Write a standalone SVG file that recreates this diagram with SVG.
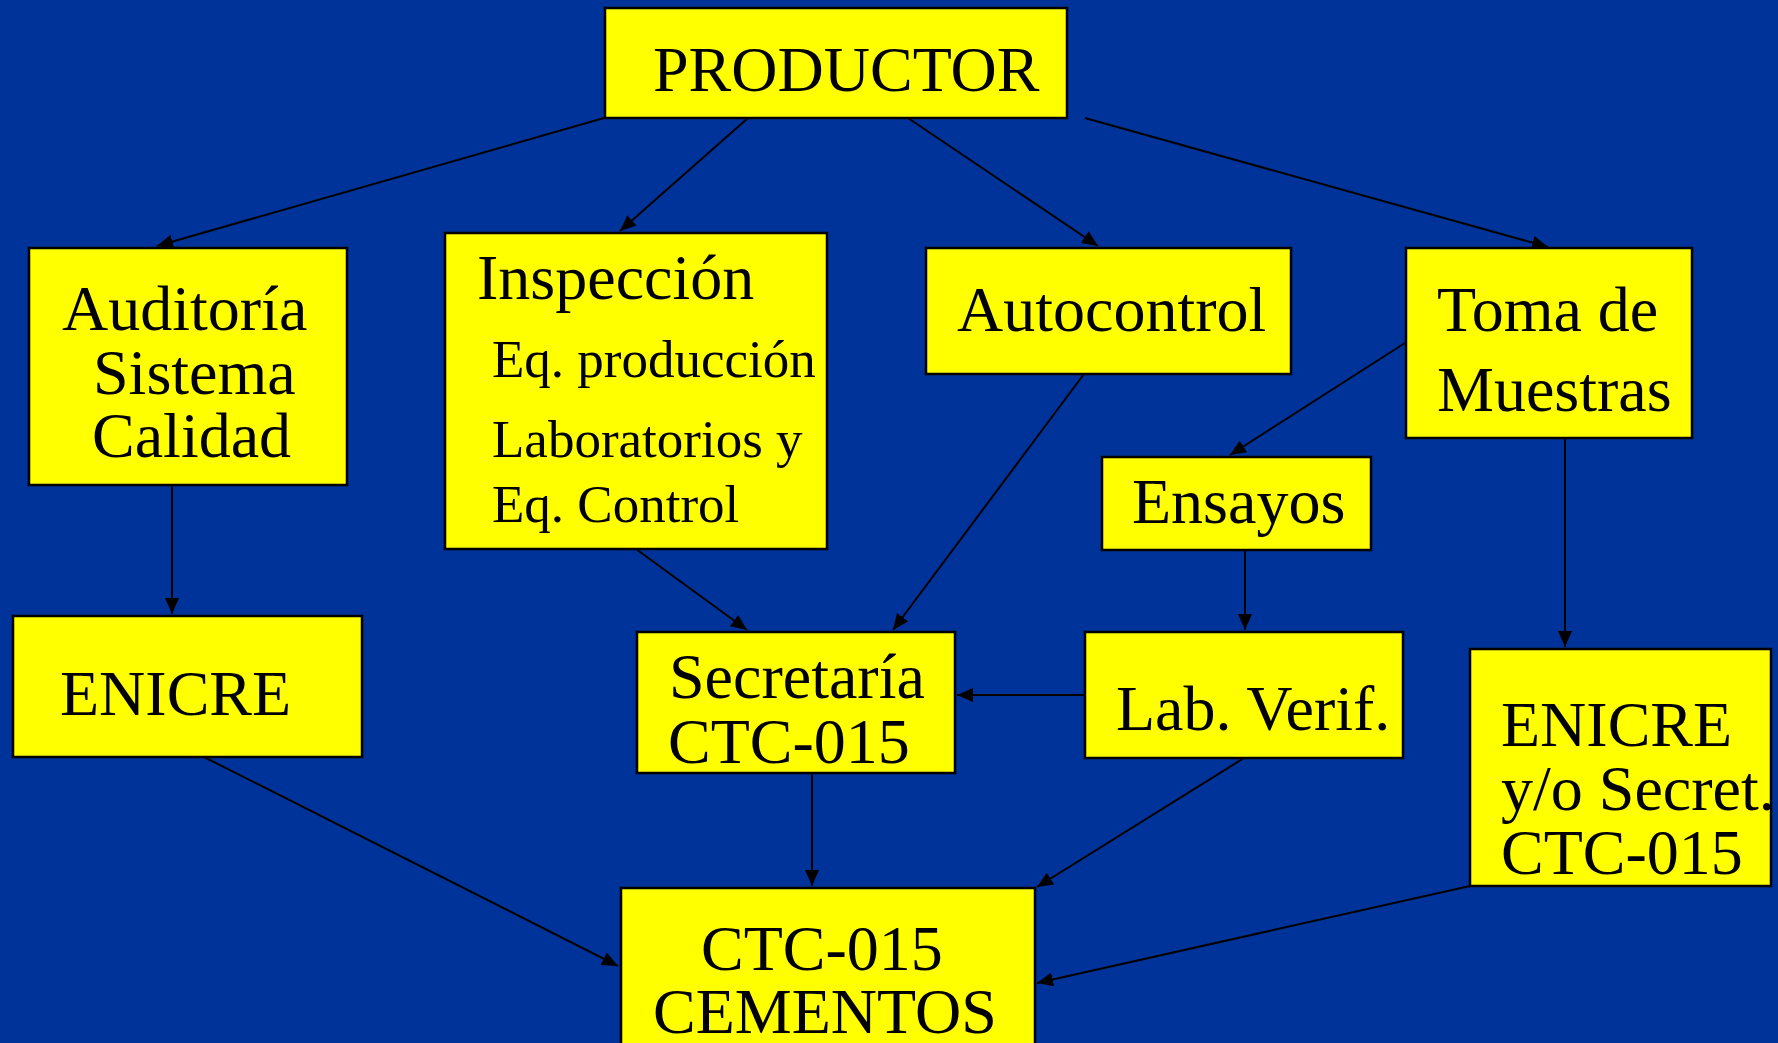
<svg xmlns="http://www.w3.org/2000/svg" width="1778" height="1043" viewBox="0 0 1778 1043">
<style>
.box{fill:#FFFF00;stroke:#000;stroke-width:2.5}
.t{font-family:"Liberation Serif","Times New Roman",serif;font-size:64px;fill:#000}
.s{font-size:53px}
.c{stroke:#000;stroke-width:2;fill:none;marker-end:url(#ah)}
</style>
<defs>
<marker id="ah" markerUnits="userSpaceOnUse" markerWidth="17" markerHeight="14" refX="16" refY="7" orient="auto">
<path d="M0,0 L16,7 L0,14 z" fill="#000"/>
</marker>
</defs>
<rect width="1778" height="1043" fill="#003399"/>
<g id="connectors">
<line class="c" x1="604" y1="118" x2="157" y2="246"/>
<line class="c" x1="748" y1="118" x2="620" y2="231"/>
<line class="c" x1="908" y1="118" x2="1098" y2="246"/>
<line class="c" x1="1085" y1="118" x2="1548" y2="247"/>
<line class="c" x1="172" y1="485" x2="172" y2="614"/>
<line class="c" x1="636" y1="549" x2="747" y2="630"/>
<line class="c" x1="1084" y1="374" x2="893" y2="630"/>
<line class="c" x1="1405" y1="343" x2="1230" y2="455"/>
<line class="c" x1="1245" y1="550" x2="1245" y2="630"/>
<line class="c" x1="1565" y1="438" x2="1565" y2="647"/>
<line class="c" x1="1085" y1="695" x2="957" y2="695"/>
<line class="c" x1="812" y1="773" x2="812" y2="886"/>
<line class="c" x1="1244" y1="758" x2="1037" y2="887"/>
<line class="c" x1="204" y1="757" x2="618" y2="966"/>
<line class="c" x1="1470" y1="886" x2="1037" y2="983"/>
</g>
<g id="productor">
<rect class="box" x="605" y="8" width="462" height="110"/>
<text class="t" x="653" y="91">PRODUCTOR</text>
</g>
<g id="auditoria">
<rect class="box" x="29" y="248" width="318" height="237"/>
<text class="t" x="62" y="330">Auditoría</text>
<text class="t" x="93" y="394">Sistema</text>
<text class="t" x="92" y="457">Calidad</text>
</g>
<g id="inspeccion">
<rect class="box" x="445" y="233" width="382" height="316"/>
<text class="t" x="477" y="299">Inspección</text>
<text class="t s" x="492" y="377">Eq. producción</text>
<text class="t s" x="492" y="457">Laboratorios y</text>
<text class="t s" x="492" y="522">Eq. Control</text>
</g>
<g id="autocontrol">
<rect class="box" x="926" y="248" width="365" height="126"/>
<text class="t" x="957" y="331">Autocontrol</text>
</g>
<g id="toma">
<rect class="box" x="1406" y="248" width="286" height="190"/>
<text class="t" x="1437" y="331">Toma de</text>
<text class="t" x="1437" y="411">Muestras</text>
</g>
<g id="ensayos">
<rect class="box" x="1102" y="457" width="269" height="93"/>
<text class="t" x="1132" y="523">Ensayos</text>
</g>
<g id="enicre">
<rect class="box" x="13" y="616" width="349" height="141"/>
<text class="t" x="60" y="715">ENICRE</text>
</g>
<g id="secretaria">
<rect class="box" x="637" y="632" width="318" height="141"/>
<text class="t" x="669" y="698">Secretaría</text>
<text class="t" x="668" y="763">CTC-015</text>
</g>
<g id="labverif">
<rect class="box" x="1085" y="632" width="318" height="126"/>
<text class="t" x="1116" y="730">Lab. Verif.</text>
</g>
<g id="enicre2">
<rect class="box" x="1470" y="649" width="301" height="237"/>
<text class="t" x="1501" y="746">ENICRE</text>
<text class="t" x="1501" y="810">y/o Secret.</text>
<text class="t" x="1501" y="874">CTC-015</text>
</g>
<g id="cementos">
<rect class="box" x="621" y="888" width="414" height="180"/>
<text class="t" x="701" y="970">CTC-015</text>
<text class="t" x="653" y="1033">CEMENTOS</text>
</g>
</svg>
